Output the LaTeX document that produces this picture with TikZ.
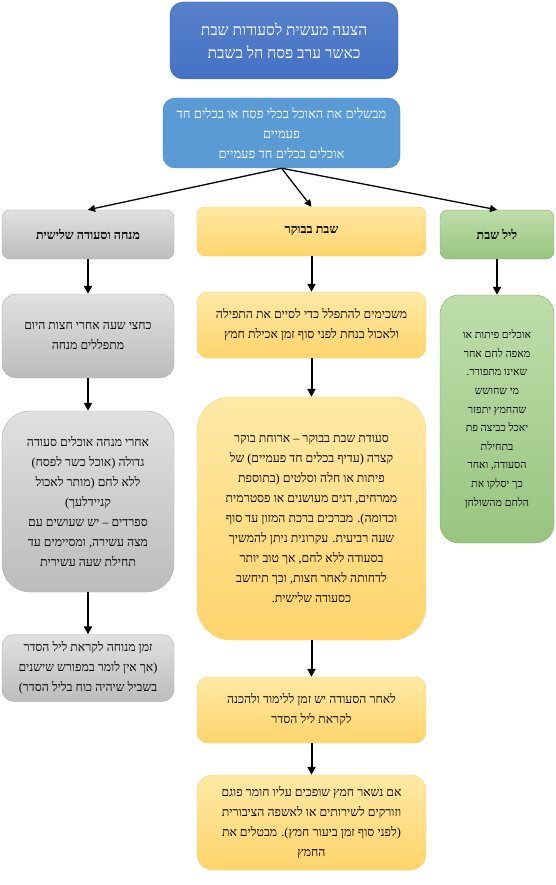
\documentclass[tikz,border=0pt]{standalone}
\usepackage{fontspec}
\setmainfont{Liberation Serif}[Script=Hebrew]
\TeXXeTstate=1
\usetikzlibrary{arrows.meta}
\newcommand\hebline[1]{\beginR #1\endR}
\definecolor{titleblue}{RGB}{68,114,196}
\definecolor{titleline}{RGB}{52,92,165}
\definecolor{subblue}{RGB}{91,155,213}
\definecolor{subline}{RGB}{75,135,195}
\definecolor{graytop}{RGB}{224,224,224}
\definecolor{graybot}{RGB}{188,188,188}
\definecolor{grayline}{RGB}{172,172,172}
\definecolor{yellowtop}{RGB}{255,233,165}
\definecolor{yellowbot}{RGB}{255,212,108}
\definecolor{yellowline}{RGB}{248,205,105}
\definecolor{greentop}{RGB}{190,221,170}
\definecolor{greenbot}{RGB}{152,197,128}
\definecolor{greenline}{RGB}{125,170,100}
\begin{document}
\begin{tikzpicture}[x=1pt,y=-1pt,line width=0.4pt,
    box/.style={draw,align=center,inner sep=0pt,font=\fontsize{12.3}{20}\selectfont},
    bluebox/.style={box,draw=titleline,top color=titleblue!90!white,bottom color=titleblue,text=white},
    lightbox/.style={box,draw=subline,fill=subblue,text=white},
    graybox/.style={box,draw=grayline,top color=graytop,bottom color=graybot},
    yellowbox/.style={box,draw=yellowline,top color=yellowtop,bottom color=yellowbot},
    greenbox/.style={box,draw=greenline,top color=greentop,bottom color=greenbot},
    head/.style={font=\fontsize{12.5}{20}\selectfont\bfseries},
    thin arrow/.style={-{Triangle[length=7pt,width=7pt]},line width=1.3pt},
    thick arrow/.style={-{Triangle[length=8pt,width=8pt]},line width=2pt}]

    \useasboundingbox (0,0) rectangle (556,885);

    % top of the chart
    \node [bluebox,minimum width=228pt,minimum height=77pt,rounded corners=13pt,
        font=\fontsize{15.5}{23}\selectfont] (title) at (284,40.5)
        {\hebline{הצעה מעשית לסעודות שבת}\\\hebline{כאשר ערב פסח חל בשבת}};
    \node [lightbox,minimum width=237pt,minimum height=70pt,rounded corners=12pt,
        font=\fontsize{13}{20}\selectfont] (kelim) at (281.5,133)
        {\hebline{מבשלים את האוכל בכלי פסח או בכלים חד}\\\hebline{פעמיים}\\\hebline{אוכלים בכלים חד פעמיים}};

    % the three meals
    \node [graybox,head,minimum width=172pt,minimum height=49pt,rounded corners=8pt] (minha) at (88,234.5) {\hebline{מנחה וסעודה שלישית}};
    \node [yellowbox,head,minimum width=229pt,minimum height=49pt,rounded corners=8pt] (boker) at (311.5,231.5) {\hebline{שבת בבוקר}};
    \node [greenbox,head,minimum width=114pt,minimum height=49pt,rounded corners=8pt] (leil) at (497,234.5) {\hebline{ליל שבת}};

    \path[thin arrow] (kelim.south) edge (minha.north);
    \path[thin arrow] (kelim.south) edge (boker.north);
    \path[thin arrow] (kelim.south) edge (leil.north);

    % left column
    \node [graybox,minimum width=172pt,minimum height=84pt,rounded corners=14pt] (minha1) at (88,336)
        {\hebline{כחצי שעה אחרי חצות היום}\\\hebline{מתפללים מנחה}};
    \node [graybox,minimum width=172pt,minimum height=181pt,rounded corners=28pt] (minha2) at (88,501.5)
        {\hebline{אחרי מנחה אוכלים סעודה}\\\hebline{גדולה (אוכל כשר לפסח)}\\\hebline{ללא לחם (מותר לאכול}\\\hebline{קניידלעך)}\\\hebline{ספרדים – יש שעושים עם}\\\hebline{מצה עשירה, ומסיימים עד}\\\hebline{תחילת שעה עשירית}};
    \node [graybox,minimum width=172pt,minimum height=67pt,rounded corners=12pt] (minha3) at (88,668)
        {\hebline{זמן מנוחה לקראת ליל הסדר}\\\hebline{(אך אין לומר במפורש שישנים}\\\hebline{בשביל שיהיה כוח בליל הסדר)}};

    \path[thick arrow] (minha) edge (minha1);
    \path[thick arrow] (minha1) edge (minha2);
    \path[thick arrow] (minha2) edge (minha3);

    % middle column
    \node [yellowbox,minimum width=229pt,minimum height=66pt,rounded corners=11pt] (boker1) at (311.5,325)
        {\hebline{משכימים להתפלל כדי לסיים את התפילה}\\\hebline{ולאכול בנחת לפני סוף זמן אכילת חמץ}};
    \node [yellowbox,minimum width=229pt,minimum height=243pt,rounded corners=34pt] (boker2) at (311.5,518.5)
        {\hebline{סעודת שבת בבוקר – ארוחת בוקר}\\\hebline{קצרה (עדיף בכלים חד פעמיים) של}\\\hebline{פיתות או חלה וסלטים (בתוספת}\\\hebline{ממרחים, דגים מעושנים או פסטרמית}\\\hebline{וכדומה). מברכים ברכת המזון עד סוף}\\\hebline{שעה רביעית. עקרונית ניתן להמשיך}\\\hebline{בסעודה ללא לחם, אך טוב יותר}\\\hebline{לדחותה לאחר חצות, וכך תיחשב}\\\hebline{כסעודה שלישית.}};
    \node [yellowbox,minimum width=229pt,minimum height=66pt,rounded corners=11pt] (boker3) at (311.5,710)
        {\hebline{לאחר הסעודה יש זמן ללימוד ולהכנה}\\\hebline{לקראת ליל הסדר}};
    \node [yellowbox,minimum width=229pt,minimum height=95pt,rounded corners=16pt] (boker4) at (311.5,822.5)
        {\hebline{אם נשאר חמץ שופכים עליו חומר פוגם}\\\hebline{וזורקים לשירותים או לאשפה הציבורית}\\\hebline{(לפני סוף זמן ביעור חמץ). מבטלים את}\\\hebline{החמץ}};

    \path[thick arrow] (boker) edge (boker1);
    \path[thick arrow] (boker1) edge (boker2);
    \path[thick arrow] (boker2) edge (boker3);
    \path[thick arrow] (boker3) edge (boker4);

    % right column
    \node [greenbox,minimum width=114pt,minimum height=248pt,rounded corners=19pt,
        font=\fontsize{10.8}{18.6}\selectfont] (leil1) at (497,419)
        {\hebline{אוכלים פיתות או}\\\hebline{מאפה לחם אחר}\\\hebline{שאינו מתפורר.}\\\hebline{מי שחושש}\\\hebline{שהחמץ יתפזר}\\\hebline{יאכל כביצה פת}\\\hebline{בתחילת}\\\hebline{הסעודה, ואחר}\\\hebline{כך יסלקו את}\\\hebline{הלחם מהשולחן}};

    \path[thick arrow] (leil) edge (leil1);

\end{tikzpicture}
\end{document}
